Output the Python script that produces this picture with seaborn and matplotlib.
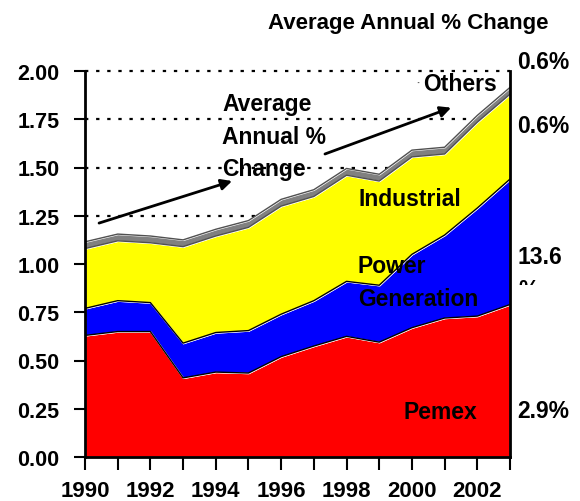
import numpy as np
import pandas as pd
import matplotlib
matplotlib.use("Agg")
from matplotlib import pyplot as plt
from matplotlib.patches import Rectangle
import seaborn as sns

# data (stacked, bottom to top)
years = list(range(1990, 2004))
pemex = [0.63, 0.65, 0.65, 0.41, 0.44, 0.435, 0.52, 0.575, 0.625, 0.595, 0.67, 0.72, 0.73, 0.79]
power = [0.14, 0.16, 0.15, 0.18, 0.205, 0.22, 0.22, 0.235, 0.285, 0.295, 0.38, 0.43, 0.56, 0.65]
industrial = [0.31, 0.31, 0.31, 0.50, 0.50, 0.535, 0.56, 0.54, 0.55, 0.54, 0.505, 0.42, 0.445, 0.44]
others = [0.035, 0.035, 0.035, 0.035, 0.035, 0.035, 0.035, 0.035, 0.035, 0.035, 0.035, 0.035, 0.035, 0.035]
year_labels = ["1990", "", "1992", "", "1994", "", "1996", "", "1998", "", "2000", "", "2002", ""]
yticks = [0.0, 0.25, 0.5, 0.75, 1.0, 1.25, 1.5, 1.75, 2.0]
growth_labels = ["0.6%", "0.6%", "13.6", "2.9%"]

sns.set_style("white")
plt.rcParams['font.family'] = ['Liberation Sans', 'DejaVu Sans']
plt.rcParams['font.weight'] = 'bold'
plt.rcParams['text.color'] = 'black'
plt.rcParams['xtick.color'] = 'black'
plt.rcParams['ytick.color'] = 'black'

FS = 16.5

df = pd.DataFrame({"year": years, "Pemex": pemex, "Power": power,
                   "Industrial": industrial, "Others": others})
cum = df[["Pemex", "Power", "Industrial", "Others"]].cumsum(axis=1)
cum["year"] = df["year"]

fig = plt.figure(figsize=(5.8, 5.02), dpi=100)
ax = fig.add_axes([85/580, 1-458/502, 425/580, 386/502])

# dotted reference lines behind the areas
for yv in [1.25, 1.5, 1.75, 2.0]:
    ax.axhline(yv, color='black', lw=1.6, ls=(0, (1.5, 3.5)), zorder=0, clip_on=False)

ax.stackplot(df["year"], df["Pemex"], df["Power"], df["Industrial"], df["Others"],
             colors=["#FF0000", "#0000FF", "#FFFF00", "#808080"], zorder=1)
for col, c in zip(["Pemex", "Power", "Industrial"], ["black", "black", "#505050"]):
    sns.lineplot(data=cum, x="year", y=col, color=c, lw=1.0, ax=ax, zorder=2)
sns.lineplot(data=cum, x="year", y="Others", color="#505050", lw=1.0, ax=ax, zorder=2)

ax.set_xlim(1990, 2003)
ax.set_ylim(0, 2)
ax.set_xticks(years)
ax.set_xticklabels(year_labels)
ax.set_yticks(yticks)
ax.set_yticklabels([f"{v:.2f}" for v in yticks])
ax.set_xlabel("")
ax.set_ylabel("")
ax.tick_params(axis='x', direction='out', length=9, width=1.5, pad=7.5, labelsize=16)
ax.tick_params(axis='y', direction='out', length=8, width=1.5, pad=10.5, labelsize=15.5)
ax.tick_params(bottom=True, left=True)
for s in ["left", "right", "bottom"]:
    ax.spines[s].set_linewidth(2)
    ax.spines[s].set_color("black")
ax.spines["top"].set_visible(False)

# series labels
ax.text(2000.34, 1.933, "Others", fontsize=FS, fontweight='bold', va='center', ha='left')
ax.text(2000.19, 1.94, "·", fontsize=8, color="#606060", va='center', ha='center')
ax.text(1999.94, 1.337, "Industrial", fontsize=FS, fontweight='bold', va='center', ha='center')
ax.text(1998.35, 0.907, "Power\nGeneration", fontsize=FS, fontweight='bold', va='center',
        ha='left', linespacing=1.6)
ax.text(2000.86, 0.238, "Pemex", fontsize=FS, fontweight='bold', va='center', ha='center')
ax.text(1994.19, 1.663, "Average\nAnnual %\nChange", fontsize=FS, fontweight='bold',
        va='center', ha='left', linespacing=1.55)

# arrows
arr = dict(arrowstyle="-|>", color="black", lw=2, mutation_scale=16, shrinkA=0, shrinkB=0)
ax.annotate("", xy=(1994.5, 1.43), xytext=(1990.43, 1.212), arrowprops=arr)
ax.annotate("", xy=(2001.2, 1.81), xytext=(1997.34, 1.57), arrowprops=arr)

# right side growth labels
tr = ax.get_yaxis_transform()
for lab, yv in zip(growth_labels, [2.047, 1.72, 1.04, 0.24]):
    ax.text(1.017, yv, lab, transform=tr, fontsize=FS, fontweight='bold', va='center',
            ha='left', clip_on=False)
# the "%" under 13.6 is cut off in the original
pct = fig.text(518/580, 1-279/502, "%", fontsize=FS, fontweight='bold', va='top', ha='left')
pct.set_clip_path(Rectangle((0, 216/502), 1, 1, transform=fig.transFigure))
pct.set_clip_on(True)

fig.text(408/580, 1-24/502, "Average Annual % Change", fontsize=16, fontweight='bold',
         ha='center', va='center')

plt.savefig("out.png", dpi=100)
